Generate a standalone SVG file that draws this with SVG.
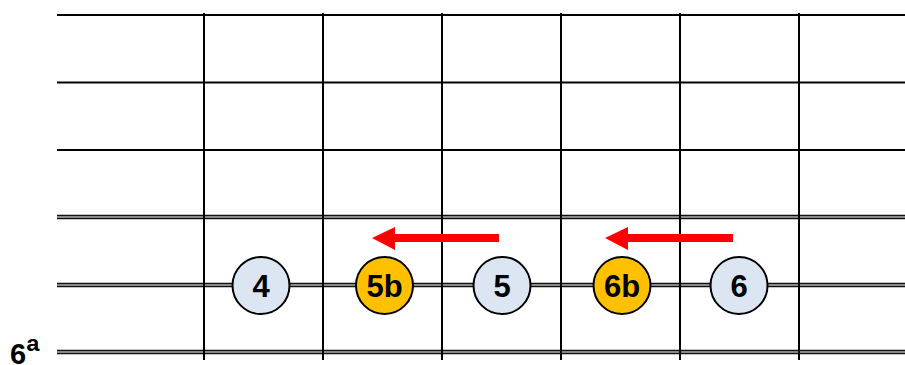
<svg xmlns="http://www.w3.org/2000/svg" width="905" height="365" viewBox="0 0 905 365">
<style>
.s{stroke:#000;stroke-width:2.2}
.d1{stroke:#111;stroke-width:4.6}
.d2{stroke:#b0b0b0;stroke-width:1.4}
.v{stroke:#000;stroke-width:2}
.n circle{stroke:#000;stroke-width:2}
.w{fill:#dce6f2}
.o{fill:#ffc000}
text{font-family:"Liberation Sans",Arial,sans-serif;font-weight:bold;font-size:31px;fill:#000;text-anchor:middle}
.arr{fill:#ff0000}
</style>
<rect width="905" height="365" fill="#fff"/>
<g id="grid">
<line class="s" x1="57" y1="15" x2="905" y2="15"/>
<line class="s" x1="57" y1="82.5" x2="905" y2="82.5"/>
<line class="s" x1="57" y1="150" x2="905" y2="150"/>
<line class="d1" x1="57" y1="217" x2="905" y2="217"/>
<line class="d2" x1="57" y1="217" x2="905" y2="217"/>
<line class="d1" x1="57" y1="285" x2="905" y2="285"/>
<line class="d2" x1="57" y1="285" x2="905" y2="285"/>
<line class="d1" x1="57" y1="352" x2="905" y2="352"/>
<line class="d2" x1="57" y1="352" x2="905" y2="352"/>
<line class="v" x1="204" y1="13" x2="204" y2="360"/>
<line class="v" x1="323" y1="13" x2="323" y2="360"/>
<line class="v" x1="442" y1="13" x2="442" y2="360"/>
<line class="v" x1="561" y1="13" x2="561" y2="360"/>
<line class="v" x1="680" y1="13" x2="680" y2="360"/>
<line class="v" x1="799" y1="13" x2="799" y2="360"/>
</g>
<text x="10" y="364" style="text-anchor:start;font-size:29px">6<tspan style="font-size:36px">ª</tspan></text>
<g id="connectors">
<path class="arr" d="M499 234 L395 234 L395 227 L372 238 L395 250 L395 242 L499 242 Z"/>
<path class="arr" d="M733 234 L628 234 L628 227 L605 238 L628 250 L628 242 L733 242 Z"/>
</g>
<g id="n4" class="n"><circle class="w" cx="261" cy="285.5" r="28.5"/><text x="261" y="296.5">4</text></g>
<g id="n5b" class="n"><circle class="o" cx="384.5" cy="285.5" r="28.5"/><text x="384.5" y="296.5">5b</text></g>
<g id="n5" class="n"><circle class="w" cx="502" cy="285.5" r="28.5"/><text x="502" y="296.5">5</text></g>
<g id="n6b" class="n"><circle class="o" cx="622" cy="285.5" r="28.5"/><text x="622" y="296.5">6b</text></g>
<g id="n6" class="n"><circle class="w" cx="739" cy="285.5" r="28.5"/><text x="739" y="296.5">6</text></g>
</svg>
